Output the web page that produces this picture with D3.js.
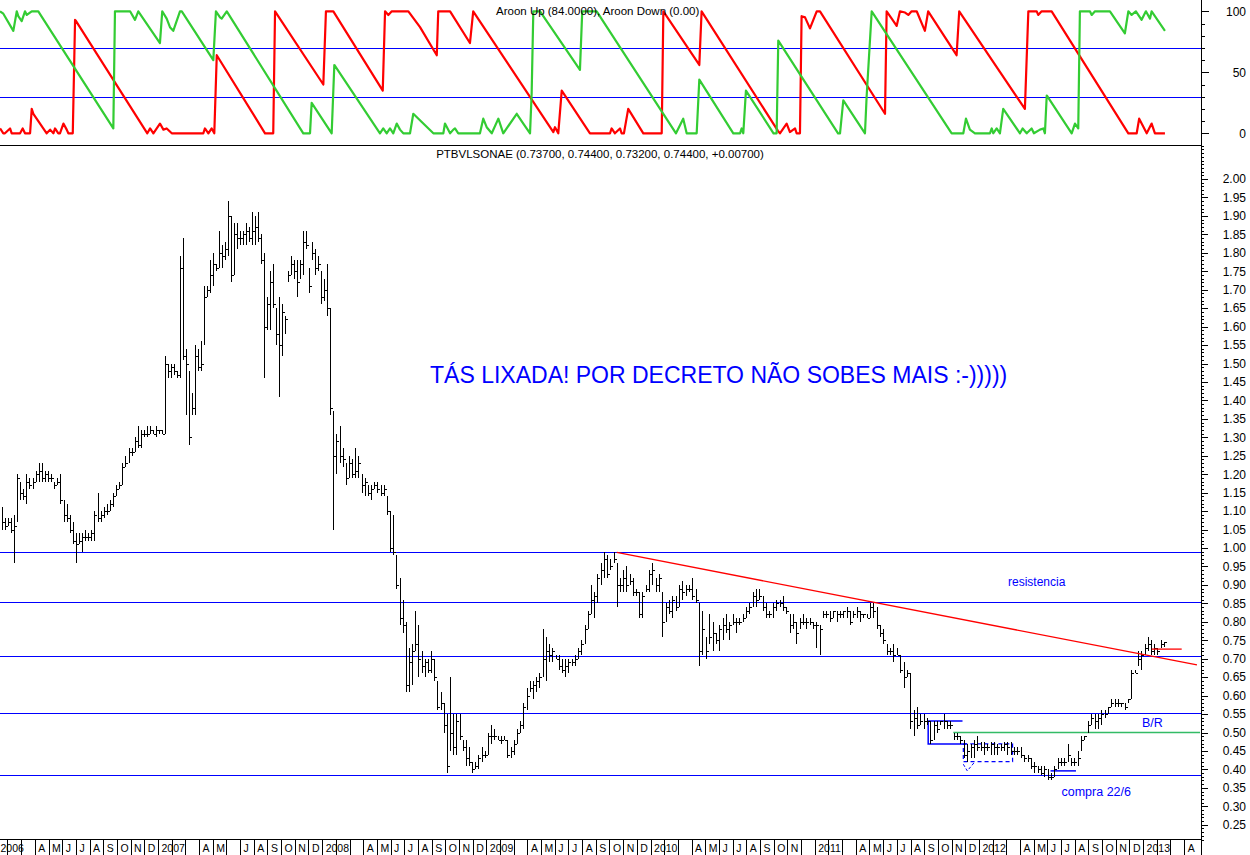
<!DOCTYPE html>
<html><head><meta charset="utf-8">
<script src="https://cdn.jsdelivr.net/npm/d3@7"></script>
<style>
body{margin:0;background:#fff}
svg{display:block}
text{font-family:"Liberation Sans",Arial,sans-serif}
</style>
</head><body>
<svg id="c" width="1250" height="855"></svg>
<script>
// ---------- DATA ----------
// weekly bars [high, low, close]
const bars2006 = [[1.11,1.05,1.07],[1.08,1.05,1.06],[1.08,1.06,1.07],[1.08,1.04,1.05],[1.09,0.96,1.06],[1.20,1.07,1.19],[1.18,1.13,1.15],[1.16,1.13,1.14],[1.20,1.12,1.18],[1.19,1.16,1.17],[1.19,1.16,1.18],[1.21,1.18,1.20],[1.23,1.18,1.21],[1.23,1.18,1.19],[1.21,1.18,1.20],[1.21,1.18,1.19],[1.20,1.18,1.19],[1.18,1.16,1.17],[1.19,1.17,1.18],[1.20,1.12,1.13],[1.13,1.07,1.09],[1.12,1.07,1.08],[1.09,1.04,1.05],[1.07,1.01,1.02],[1.04,0.96,1.01],[1.04,1.01,1.02],[1.04,0.99,1.03],[1.05,1.02,1.03],[1.04,1.02,1.03],[1.05,1.02,1.04],[1.10,1.02,1.09],[1.15,1.07,1.08],[1.10,1.07,1.09],[1.11,1.08,1.10],[1.12,1.09,1.10],[1.13,1.10,1.12],[1.15,1.11,1.14],[1.17,1.14,1.16],[1.18,1.16,1.17],[1.23,1.17,1.22],[1.25,1.22,1.23],[1.27,1.23,1.26],[1.27,1.25,1.26],[1.30,1.26,1.29],[1.33,1.27,1.28],[1.32,1.27,1.31],[1.32,1.30,1.31],[1.33,1.30,1.31],[1.33,1.31,1.32],[1.32,1.31,1.31],[1.33,1.30,1.32]];
const bars2007 = [[1.32,1.31,1.32],[1.32,1.31,1.31],[1.52,1.31,1.50],[1.50,1.46,1.48],[1.50,1.46,1.49],[1.50,1.47,1.48],[1.48,1.46,1.47],[1.79,1.46,1.76],[1.84,1.51,1.52],[1.54,1.36,1.50],[1.48,1.28,1.30],[1.42,1.36,1.38],[1.55,1.36,1.52],[1.54,1.48,1.49],[1.56,1.48,1.50],[1.71,1.55,1.68],[1.71,1.68,1.70],[1.78,1.69,1.74],[1.80,1.71,1.77],[1.77,1.75,1.76],[1.86,1.76,1.80],[1.82,1.76,1.79],[1.83,1.78,1.81],[1.94,1.79,1.90],[1.90,1.72,1.74],[1.88,1.74,1.85],[1.88,1.81,1.84],[1.86,1.82,1.84],[1.86,1.82,1.85],[1.88,1.82,1.86],[1.87,1.83,1.84],[1.91,1.82,1.86],[1.90,1.82,1.87],[1.91,1.83,1.84],[1.85,1.77,1.78],[1.80,1.46,1.60],[1.68,1.59,1.66],[1.75,1.59,1.72],[1.77,1.65,1.66],[1.65,1.55,1.58],[1.68,1.41,1.55],[1.66,1.52,1.64],[1.63,1.58,1.62],[1.75,1.72,1.74],[1.79,1.74,1.77],[1.78,1.73,1.75],[1.78,1.68,1.72],[1.78,1.73,1.77],[1.86,1.74,1.83],[1.86,1.81,1.82],[1.76,1.69,1.71],[1.83,1.78,1.80],[1.81,1.74,1.76],[1.79,1.75,1.77],[1.75,1.66,1.68]];
const bars2008 = [[1.73,1.67,1.70],[1.77,1.63,1.65],[1.65,1.36,1.38],[1.37,1.05,1.25],[1.31,1.20,1.29],[1.33,1.23,1.25],[1.27,1.22,1.24],[1.23,1.17,1.19],[1.25,1.19,1.23],[1.24,1.19,1.20],[1.27,1.19,1.21],[1.25,1.19,1.23],[1.20,1.15,1.17],[1.19,1.14,1.18],[1.17,1.14,1.15],[1.17,1.13,1.16],[1.18,1.16,1.17],[1.18,1.15,1.16],[1.17,1.14,1.15],[1.17,1.14,1.16],[1.14,1.09,1.10],[1.10,0.99,1.00],[1.09,0.98,0.99],[0.98,0.89,0.90],[0.92,0.79,0.81],[0.86,0.77,0.79],[0.80,0.61,0.63],[0.73,0.61,0.69],[0.74,0.63,0.72],[0.83,0.72,0.74],[0.79,0.65,0.70],[0.72,0.66,0.68],[0.70,0.65,0.69],[0.70,0.66,0.67],[0.72,0.66,0.70],[0.70,0.64,0.65],[0.64,0.56,0.57],[0.61,0.56,0.58],[0.58,0.50,0.52],[0.55,0.39,0.41],[0.65,0.45,0.50],[0.55,0.44,0.46],[0.55,0.44,0.53],[0.55,0.48,0.49],[0.48,0.45,0.46],[0.48,0.41,0.43],[0.46,0.41,0.42],[0.42,0.39,0.40],[0.42,0.40,0.41],[0.44,0.40,0.43],[0.46,0.42,0.44],[0.45,0.43,0.44]];
const bars2009 = [[0.50,0.44,0.49],[0.52,0.47,0.49],[0.51,0.48,0.49],[0.49,0.48,0.48],[0.49,0.47,0.48],[0.49,0.48,0.48],[0.48,0.43,0.44],[0.46,0.43,0.45],[0.48,0.44,0.47],[0.51,0.47,0.50],[0.53,0.50,0.52],[0.58,0.51,0.57],[0.62,0.56,0.60],[0.64,0.61,0.62],[0.64,0.59,0.63],[0.65,0.61,0.64],[0.66,0.62,0.65],[0.78,0.65,0.70],[0.76,0.64,0.72],[0.74,0.69,0.71],[0.73,0.69,0.72],[0.71,0.70,0.70],[0.71,0.67,0.68],[0.70,0.66,0.67],[0.70,0.65,0.68],[0.70,0.66,0.69],[0.70,0.68,0.69],[0.71,0.68,0.70],[0.73,0.70,0.72],[0.75,0.71,0.74],[0.79,0.74,0.78],[0.83,0.78,0.82],[0.90,0.82,0.86],[0.88,0.81,0.87],[0.93,0.85,0.92],[0.96,0.90,0.94],[0.99,0.92,0.97],[0.98,0.92,0.93],[0.97,0.94,0.95],[0.99,0.96,0.97],[0.96,0.84,0.90],[0.92,0.88,0.90],[0.94,0.88,0.92],[0.95,0.88,0.90],[0.93,0.90,0.91],[0.92,0.87,0.88],[0.89,0.87,0.88],[0.88,0.81,0.82],[0.88,0.81,0.87],[0.90,0.88,0.89],[0.94,0.88,0.93]];
const bars2010 = [[0.96,0.90,0.94],[0.92,0.88,0.90],[0.93,0.88,0.92],[0.88,0.76,0.80],[0.85,0.80,0.84],[0.86,0.82,0.83],[0.87,0.81,0.86],[0.87,0.83,0.84],[0.90,0.84,0.89],[0.91,0.86,0.88],[0.90,0.87,0.89],[0.90,0.88,0.89],[0.92,0.86,0.87],[0.89,0.85,0.86],[0.85,0.68,0.72],[0.83,0.71,0.78],[0.76,0.70,0.72],[0.82,0.74,0.76],[0.80,0.72,0.77],[0.77,0.74,0.75],[0.79,0.72,0.78],[0.81,0.75,0.79],[0.82,0.77,0.78],[0.80,0.75,0.79],[0.82,0.79,0.80],[0.81,0.77,0.80],[0.81,0.79,0.80],[0.82,0.80,0.81],[0.84,0.81,0.83],[0.85,0.82,0.84],[0.88,0.84,0.87],[0.89,0.84,0.86],[0.89,0.86,0.87],[0.87,0.83,0.84],[0.85,0.81,0.82],[0.83,0.81,0.82],[0.85,0.81,0.84],[0.86,0.83,0.85],[0.86,0.84,0.85],[0.87,0.83,0.84],[0.84,0.82,0.83],[0.82,0.77,0.79],[0.82,0.78,0.80],[0.80,0.74,0.77],[0.81,0.78,0.80],[0.82,0.79,0.80],[0.81,0.78,0.80],[0.81,0.79,0.80],[0.80,0.78,0.79]];
const bars2011 = [[0.80,0.73,0.79],[0.79,0.71,0.78],[0.83,0.81,0.82],[0.83,0.81,0.82],[0.83,0.80,0.81],[0.83,0.81,0.83],[0.83,0.80,0.82],[0.83,0.81,0.82],[0.83,0.81,0.83],[0.84,0.81,0.83],[0.83,0.79,0.80],[0.83,0.81,0.82],[0.84,0.81,0.83],[0.83,0.80,0.82],[0.82,0.81,0.82],[0.82,0.81,0.81],[0.85,0.81,0.84],[0.85,0.81,0.83],[0.84,0.78,0.79],[0.79,0.76,0.77],[0.78,0.74,0.75],[0.74,0.71,0.72],[0.73,0.71,0.72],[0.74,0.69,0.71],[0.73,0.71,0.71],[0.71,0.66,0.67],[0.69,0.62,0.65],[0.67,0.65,0.66],[0.66,0.51,0.53],[0.56,0.49,0.54],[0.57,0.51,0.52],[0.55,0.52,0.53],[0.55,0.51,0.53],[0.54,0.52,0.53],[0.53,0.47,0.48],[0.53,0.48,0.52],[0.53,0.50,0.51],[0.53,0.52,0.53],[0.55,0.51,0.53],[0.53,0.51,0.52],[0.53,0.51,0.52],[0.50,0.48,0.49],[0.50,0.48,0.49],[0.49,0.47,0.48],[0.48,0.43,0.44],[0.47,0.42,0.45],[0.47,0.43,0.46],[0.48,0.43,0.47],[0.49,0.45,0.46]];
const bars2012 = [[0.475,0.45,0.46],[0.475,0.44,0.46],[0.47,0.45,0.46],[0.475,0.44,0.47],[0.475,0.44,0.46],[0.47,0.44,0.46],[0.47,0.45,0.46],[0.475,0.45,0.47],[0.475,0.44,0.46],[0.475,0.44,0.45],[0.46,0.44,0.45],[0.46,0.44,0.45],[0.46,0.43,0.44],[0.44,0.42,0.43],[0.44,0.42,0.43],[0.43,0.40,0.41],[0.42,0.39,0.41],[0.41,0.39,0.40],[0.41,0.385,0.39],[0.41,0.38,0.40],[0.40,0.37,0.38],[0.39,0.37,0.38],[0.41,0.38,0.40],[0.43,0.40,0.42],[0.43,0.41,0.42],[0.43,0.41,0.42],[0.47,0.42,0.44],[0.43,0.41,0.42],[0.43,0.41,0.42],[0.45,0.41,0.43],[0.49,0.45,0.48],[0.49,0.48,0.49],[0.53,0.50,0.52],[0.55,0.52,0.54],[0.55,0.51,0.53],[0.55,0.51,0.54],[0.56,0.52,0.55],[0.56,0.54,0.55],[0.57,0.55,0.57],[0.59,0.57,0.58],[0.59,0.57,0.58],[0.59,0.57,0.58],[0.58,0.57,0.58],[0.58,0.56,0.57],[0.59,0.58,0.59],[0.67,0.59,0.66],[0.67,0.66,0.66],[0.72,0.68,0.70],[0.72,0.67,0.71]];
const bars2013 = [[0.74,0.71,0.73],[0.76,0.72,0.74],[0.75,0.71,0.72],[0.74,0.71,0.73],[0.73,0.71,0.72],[0.75,0.73,0.74],[0.744,0.732,0.744]];
const yearBars  = [bars2006,bars2007,bars2008,bars2009,bars2010,bars2011,bars2012,bars2013];
const yearSpans = [[2006.038,2007],[2007,2008],[2008,2009],[2009,2010],[2010,2011],[2011,2012],[2012,2013],[2013,2013.135]];

// Aroon vertices [decimal year, value]
const aroonUp = [[2006.038,100],[2006.058,98],[2006.119,84],[2006.140,100],[2006.149,96],[2006.170,92],[2006.190,100],[2006.201,97],[2006.231,100],[2006.271,100],[2006.728,4],[2006.738,100],[2006.830,100],[2006.860,93],[2006.880,100],[2007.012,74],[2007.026,100],[2007.053,94],[2007.073,87],[2007.093,84],[2007.134,100],[2007.145,100],[2007.337,60],[2007.353,100],[2007.378,95],[2007.388,94],[2007.419,100],[2007.885,0],[2007.926,0],[2007.936,25],[2008.058,0],[2008.074,56],[2008.352,0],[2008.372,4],[2008.393,0],[2008.413,4],[2008.433,0],[2008.454,8],[2008.474,3],[2008.494,0],[2008.535,0],[2008.555,16],[2008.616,8],[2008.677,0],[2008.738,0],[2008.748,8],[2008.779,0],[2008.799,3],[2008.809,4],[2008.829,0],[2008.961,0],[2008.981,12],[2009.002,5],[2009.033,0],[2009.073,12],[2009.103,0],[2009.185,16],[2009.225,8],[2009.266,0],[2009.276,33],[2009.286,100],[2009.327,100],[2009.570,52],[2009.584,100],[2009.672,100],[2010.155,0],[2010.199,12],[2010.220,0],[2010.281,0],[2010.297,44],[2010.504,0],[2010.545,0],[2010.555,4],[2010.565,0],[2010.581,35],[2010.749,0],[2010.768,0],[2010.778,76],[2011.142,0],[2011.154,0],[2011.174,27],[2011.306,0],[2011.316,30],[2011.347,100],[2011.834,0],[2011.905,0],[2011.921,12],[2011.945,3],[2011.976,0],[2012.067,0],[2012.078,4],[2012.087,0],[2012.108,4],[2012.128,0],[2012.148,20],[2012.250,0],[2012.266,4],[2012.291,0],[2012.321,4],[2012.335,0],[2012.372,3],[2012.392,4],[2012.402,0],[2012.413,31],[2012.565,0],[2012.585,8],[2012.605,4],[2012.615,100],[2012.676,100],[2012.687,97],[2012.707,100],[2012.798,100],[2012.889,82],[2012.910,100],[2012.930,97],[2012.956,100],[2012.991,93],[2013.017,100],[2013.042,94],[2013.052,100],[2013.133,84]];
const aroonDown = [[2006.038,4],[2006.058,0],[2006.068,0],[2006.099,4],[2006.109,0],[2006.160,0],[2006.176,4],[2006.190,0],[2006.221,0],[2006.231,20],[2006.241,16],[2006.322,0],[2006.343,3],[2006.363,0],[2006.373,4],[2006.393,0],[2006.403,0],[2006.424,8],[2006.444,3],[2006.454,0],[2006.481,0],[2006.495,93],[2006.501,92],[2006.935,0],[2006.952,4],[2006.972,0],[2007.012,8],[2007.033,3],[2007.053,4],[2007.084,0],[2007.276,0],[2007.286,4],[2007.307,0],[2007.327,4],[2007.343,0],[2007.358,64],[2007.652,0],[2007.702,0],[2007.713,100],[2008.007,40],[2008.023,100],[2008.068,100],[2008.369,35],[2008.383,100],[2008.403,97],[2008.424,100],[2008.525,100],[2008.596,87],[2008.698,64],[2008.707,100],[2008.779,100],[2008.900,74],[2008.920,100],[2009.408,1],[2009.418,5],[2009.438,0],[2009.459,35],[2009.631,0],[2009.753,0],[2009.763,4],[2009.783,0],[2009.814,4],[2009.824,0],[2009.838,0],[2009.864,20],[2009.956,0],[2010.068,0],[2010.078,100],[2010.297,56],[2010.311,100],[2010.776,2],[2010.788,0],[2010.829,8],[2010.849,1],[2010.880,4],[2010.890,0],[2010.910,0],[2010.920,96],[2010.941,95],[2010.971,86],[2011.012,100],[2011.032,100],[2011.428,16],[2011.438,100],[2011.469,94],[2011.499,88],[2011.519,100],[2011.550,99],[2011.570,97],[2011.590,100],[2011.621,100],[2011.671,84],[2011.691,100],[2011.864,64],[2011.880,100],[2012.280,20],[2012.301,100],[2012.352,100],[2012.361,97],[2012.382,100],[2012.443,100],[2012.910,0],[2012.961,0],[2012.976,12],[2013.022,0],[2013.052,8],[2013.072,0],[2013.133,0]];

// annotation lines (decimal year, price)
const blueLevels = [0.988, 0.855, 0.707, 0.552, 0.384];
const trendLine  = [[2009.794,0.988],[2013.328,0.683]];
const redStub    = [[2013.052,0.726],[2013.235,0.726]];
const brLine     = [[2011.844,0.500],[2013.347,0.500]];
const boxSolid   = [[2011.900,0.531],[2011.691,0.531],[2011.691,0.469],[2011.925,0.469]];
const boxDashed  = [[2011.905,0.469],[2012.205,0.469],[2012.205,0.421],[2011.905,0.421],[2011.905,0.469]];
const checkMark  = [[2011.905,0.414],[2011.929,0.396],[2011.976,0.421]];
const buyLine    = [[2012.436,0.396],[2012.591,0.396]];

const priceMajor = d3.range(25, 201, 5).map(v => v/100);
const priceMinor = d3.range(21, 210).map(v => v/100);
const aroonMajor = [0, 50, 100];
const aroonMinor = d3.range(0, 101, 10);
const monthLetters = ["", "", "", "A", "M", "J", "J", "A", "S", "O", "N", "D"];
const omittedLabels = ["2007-5", "2010-11"];
const yearsShown = [2006, 2007, 2008, 2009, 2010, 2011, 2012, 2013];

const titleText = "PTBVLSONAE (0.73700, 0.74400, 0.73200, 0.74400, +0.00700)";
const aroonText = "Aroon Up (84.0000), Aroon Down (0.00)";
const bigNote = "TÁS LIXADA! POR DECRETO NÃO SOBES MAIS :-)))))";

// ---------- DRAW ----------
(function draw(){
const svg = d3.select("#c");
svg.append("rect").attr("width",1250).attr("height",855).attr("fill","#fff");

const x = d3.scaleLinear().domain([2006.0378, 2013.3465]).range([0, 1200]);
const yP = d3.scaleLinear().domain([0.25, 2.00]).range([824.75, 179]);
const yA = d3.scaleLinear().domain([0, 100]).range([133.3, 11.3]);
const AX = 1201;
const FONT = '"Liberation Sans",Arial,sans-serif';

const defs = svg.append("defs");
defs.append("clipPath").attr("id","clipTop").append("rect").attr("x",0).attr("y",0).attr("width",AX).attr("height",145);
defs.append("clipPath").attr("id","clipMain").append("rect").attr("x",0).attr("y",146).attr("width",AX).attr("height",693);

// ---- top panel ----
const topG = svg.append("g").attr("clip-path","url(#clipTop)");
[70, 30].forEach(v => topG.append("line").attr("x1",0).attr("x2",AX)
  .attr("y1",Math.round(yA(v))+0.5).attr("y2",Math.round(yA(v))+0.5)
  .attr("stroke","#0000ff").attr("stroke-width",1.2));
const lineA = d3.line().x(d => x(d[0])).y(d => yA(d[1]));
topG.append("path").datum(aroonDown).attr("d",lineA).attr("fill","none").attr("stroke","#ff0000").attr("stroke-width",2.2).attr("stroke-linejoin","round");
topG.append("path").datum(aroonUp).attr("d",lineA).attr("fill","none").attr("stroke","#33cc33").attr("stroke-width",2.2).attr("stroke-linejoin","round");
svg.append("text").attr("x",496).attr("y",15).attr("font-size",11.5).attr("fill","#000").text(aroonText);

svg.append("line").attr("x1",0).attr("x2",AX).attr("y1",145.5).attr("y2",145.5).attr("stroke","#000");

const gTA = svg.append("g").attr("transform",`translate(${AX},0)`);
gTA.append("g").call(d3.axisRight(yA).tickValues(aroonMinor).tickSize(4).tickFormat("").tickSizeOuter(0));
gTA.append("g").call(d3.axisRight(yA).tickValues(aroonMajor).tickSize(8).tickFormat(d3.format("d")).tickSizeOuter(0));
gTA.selectAll(".domain").remove();
gTA.selectAll("text").attr("x",45).attr("text-anchor","end").attr("font-size",12).attr("font-family",FONT);

// ---- main panel ----
svg.append("text").attr("x",600).attr("y",158).attr("text-anchor","middle").attr("font-size",11.5).attr("fill","#000").text(titleText);

const mainG = svg.append("g").attr("clip-path","url(#clipMain)");
blueLevels.forEach(v => mainG.append("line").attr("x1",0).attr("x2",AX)
  .attr("y1",Math.round(yP(v))+0.5).attr("y2",Math.round(yP(v))+0.5)
  .attr("stroke","#0000ff").attr("stroke-width",1.2));

const lineP = d3.line().x(d => x(d[0])).y(d => yP(d[1]));
mainG.append("path").datum(brLine).attr("d",lineP).attr("stroke","#33bb66").attr("stroke-width",1.5).attr("fill","none");
mainG.append("path").datum(boxSolid).attr("d",lineP).attr("stroke","#0000ff").attr("stroke-width",1.5).attr("fill","none");
mainG.append("path").datum(boxDashed).attr("d",lineP).attr("stroke","#0000ff").attr("stroke-width",1.2).attr("stroke-dasharray","4,3").attr("fill","none");
mainG.append("path").datum(checkMark).attr("d",lineP).attr("stroke","#0000ff").attr("stroke-width",1).attr("stroke-dasharray","3,2").attr("fill","none");
mainG.append("path").datum(buyLine).attr("d",lineP).attr("stroke","#0000ff").attr("stroke-width",1.5).attr("fill","none");

const barG = mainG.append("g").attr("stroke","#000").attr("stroke-width",1).attr("shape-rendering","crispEdges");
yearBars.forEach((arr, k) => {
  const [s, e] = yearSpans[k];
  const step = (e - s) / arr.length;
  arr.forEach((b, i) => {
    const px = Math.round(x(s + (i + 0.5) * step)) + 0.5;
    barG.append("line").attr("x1",px).attr("x2",px).attr("y1",yP(b[0])).attr("y2",yP(b[1]));
    const cy = Math.round(yP(b[2])) + 0.5;
    barG.append("line").attr("x1",px).attr("x2",px+2).attr("y1",cy).attr("y2",cy);
  });
});

mainG.append("path").datum(trendLine).attr("d",lineP).attr("stroke","#ff0000").attr("stroke-width",1.3).attr("fill","none");
mainG.append("path").datum(redStub).attr("d",lineP).attr("stroke","#ff0000").attr("stroke-width",1.3).attr("fill","none");

const blue = "#0000ff";
mainG.append("text").attr("x",x(2008.657)).attr("y",yP(1.446)).attr("font-size",23).attr("fill",blue).text(bigNote);
mainG.append("text").attr("x",x(2012.177)).attr("y",yP(0.897)).attr("font-size",12).attr("fill",blue).text("resistencia");
mainG.append("text").attr("x",x(2012.993)).attr("y",yP(0.514)).attr("font-size",12.5).attr("fill",blue).text("B/R");
mainG.append("text").attr("x",x(2012.503)).attr("y",yP(0.329)).attr("font-size",12.5).attr("fill",blue).text("compra 22/6");

const gPA = svg.append("g").attr("transform",`translate(${AX},0)`);
gPA.append("g").call(d3.axisRight(yP).tickValues(priceMinor).tickSize(3).tickFormat("").tickSizeOuter(0));
gPA.append("g").call(d3.axisRight(yP).tickValues(priceMajor).tickSize(7).tickFormat(d3.format(".2f")).tickSizeOuter(0));
gPA.selectAll(".domain").remove();
gPA.selectAll("text").attr("x",45).attr("text-anchor","end").attr("font-size",12).attr("font-family",FONT);
svg.selectAll(".tick line").attr("shape-rendering","crispEdges");

svg.append("line").attr("x1",AX+0.5).attr("x2",AX+0.5).attr("y1",0).attr("y2",855).attr("stroke","#000");

const months = [];
yearsShown.forEach(yr => d3.range(12).forEach(m => {
  const v = yr + m/12;
  if (v <= 2013.26) months.push({v, yr, m});
}));
const labelOf = d => {
  if (omittedLabels.includes(d.yr + "-" + d.m)) return "";
  return d.m === 0 ? String(d.yr) : monthLetters[d.m];
};
const gX = svg.append("g").attr("transform","translate(0,839)");
gX.call(d3.axisBottom(x).tickValues(months.map(d => d.v)).tickSize(16).tickSizeOuter(0)
  .tickFormat((v, i) => labelOf(months[i])));
gX.select(".domain").remove();
gX.selectAll(".tick line").attr("shape-rendering","crispEdges");
gX.selectAll(".tick text").attr("text-anchor","start").attr("x",3).attr("y",13).attr("dy",0)
  .attr("font-size",10.5).attr("font-family",FONT);
gX.selectAll(".tick").filter(v => x(v) < 0).select("text").attr("x", v => -x(v));
svg.append("line").attr("x1",0).attr("x2",AX).attr("y1",839.5).attr("y2",839.5).attr("stroke","#000");
})();
</script>
</body></html>
